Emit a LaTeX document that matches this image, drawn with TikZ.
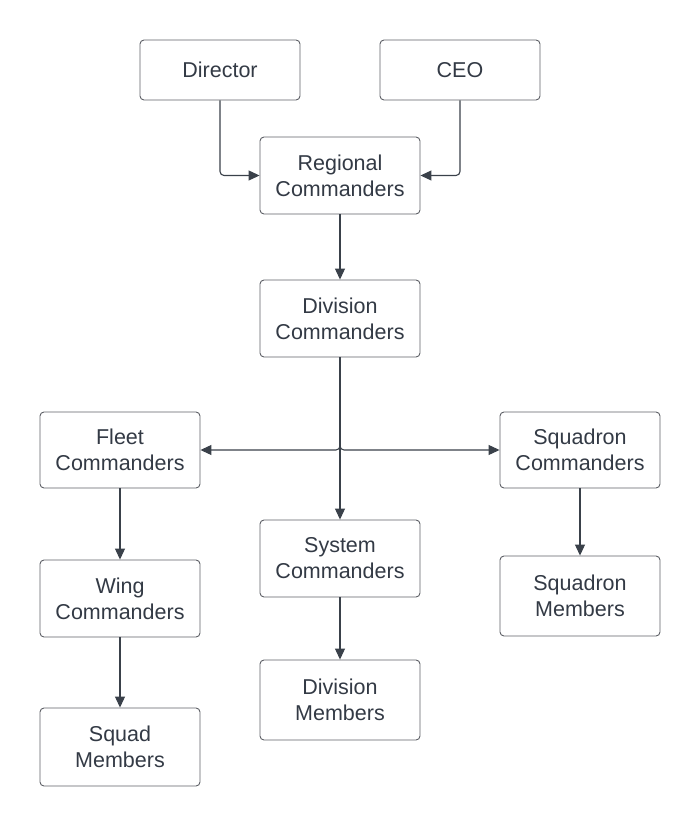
\documentclass[tikz,border=0pt]{standalone}
\usepackage{fontspec}
\setmainfont{Liberation Sans}
\usetikzlibrary{arrows.meta}
\definecolor{boxline}{HTML}{5E6066}
\definecolor{arrowc}{HTML}{3A414A}
\definecolor{txt}{HTML}{333A45}
\tikzset{
  box/.style={draw=boxline, line width=0.9pt, rounded corners=4pt, fill=white,
    minimum width=160pt, align=center, text=txt, inner sep=0pt,
    font=\fontsize{21.5pt}{26pt}\selectfont},
  conn/.style={draw=arrowc, line width=1.1pt, rounded corners=4pt,
    -{Triangle[length=11pt,width=10pt]}},
  plain/.style={draw=arrowc, line width=1.1pt, rounded corners=4pt}
}
\begin{document}
\begin{tikzpicture}[x=1pt,y=-1pt]
\useasboundingbox (0,0) rectangle (700,826);
\node[box, minimum height=60pt] (dir) at (220,70) {Director};
\node[box, minimum height=60pt] (ceo) at (460,70) {CEO};
\node[box, minimum height=77pt] (reg) at (340,175.5) {Regional\\Commanders};
\node[box, minimum height=77pt] (div) at (340,318.5) {Division\\Commanders};
\node[box, minimum height=76pt] (fleet) at (120,450) {Fleet\\Commanders};
\node[box, minimum height=76pt] (sqc) at (580,450) {Squadron\\Commanders};
\node[box, minimum height=77pt] (sys) at (340,558.5) {System\\Commanders};
\node[box, minimum height=77pt] (wing) at (120,598.5) {Wing\\Commanders};
\node[box, minimum height=80pt] (sqm) at (580,596) {Squadron\\Members};
\node[box, minimum height=80pt] (dmem) at (340,700) {Division\\Members};
\node[box, minimum height=78pt] (squad) at (120,747) {Squad\\Members};

\draw[conn] (dir.south) |- (reg.west);
\draw[conn] (ceo.south) |- (reg.east);
\draw[conn] (reg.south) -- (div.north);
\draw[conn] (div.south) -- (sys.north);
\draw[conn] (div.south) |- (fleet.east);
\draw[conn] (div.south) |- (sqc.west);
\draw[conn] (fleet.south) -- (wing.north);
\draw[conn] (wing.south) -- (squad.north);
\draw[conn] (sys.south) -- (dmem.north);
\draw[conn] (sqc.south) -- (sqm.north);
\end{tikzpicture}
\end{document}
